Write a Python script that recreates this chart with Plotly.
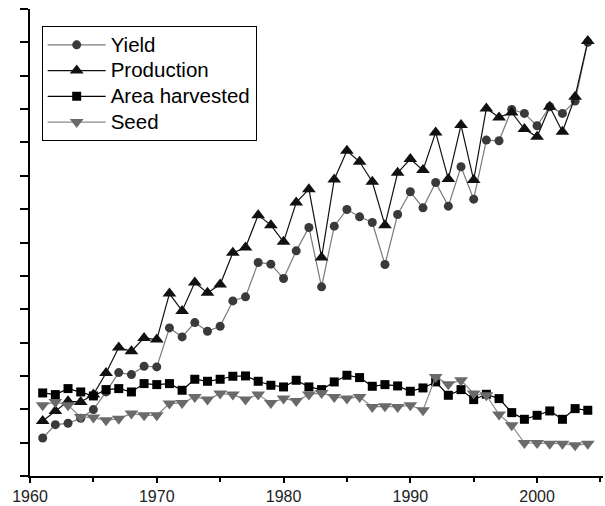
import plotly.graph_objects as go

years = list(range(1961, 2005))

yield_vals = [1.14, 1.54, 1.58, 1.73, 1.99, 2.52, 3.10, 3.04, 3.29, 3.27,
              4.44, 4.17, 4.60, 4.34, 4.49, 5.25, 5.37, 6.40, 6.35, 5.92,
              6.75, 7.45, 5.67, 7.49, 7.99, 7.77, 7.60, 6.34, 7.84, 8.52,
              8.04, 8.80, 8.09, 9.27, 8.30, 10.07, 10.05, 10.99, 10.87, 10.50,
              11.07, 10.87, 11.24, 13.00]

production_vals = [1.65, 1.95, 2.24, 2.22, 2.44, 3.09, 3.85, 3.74, 4.14, 4.09,
                   5.47, 4.95, 5.80, 5.49, 5.74, 6.69, 6.85, 7.82, 7.52, 7.02,
                   8.20, 8.60, 6.55, 8.89, 9.75, 9.42, 8.82, 7.52, 9.09, 9.50,
                   9.17, 10.30, 8.90, 10.52, 8.87, 11.02, 10.75, 10.90, 10.40, 10.17,
                   11.07, 10.32, 11.37, 13.04]

area_vals = [2.49, 2.44, 2.62, 2.52, 2.40, 2.59, 2.62, 2.52, 2.77, 2.74,
             2.77, 2.57, 2.90, 2.84, 2.90, 2.99, 3.00, 2.84, 2.72, 2.67,
             2.87, 2.67, 2.59, 2.82, 3.02, 2.95, 2.69, 2.74, 2.70, 2.54,
             2.64, 2.82, 2.42, 2.59, 2.29, 2.45, 2.32, 1.90, 1.70, 1.82,
             1.95, 1.70, 2.02, 1.97]

seed_vals = [2.12, 2.22, 2.12, 1.77, 1.75, 1.67, 1.72, 1.87, 1.82, 1.82,
             2.17, 2.19, 2.37, 2.29, 2.47, 2.44, 2.29, 2.44, 2.19, 2.32,
             2.25, 2.44, 2.49, 2.37, 2.32, 2.37, 2.07, 2.09, 2.07, 2.12,
             1.97, 2.97, 2.75, 2.87, 2.47, 2.42, 1.84, 1.52, 0.99, 0.99,
             0.97, 0.97, 0.92, 0.97]

series_names = ["Yield", "Production", "Area harvested", "Seed"]

x_tick_vals = [1960, 1970, 1980, 1990, 2000]
x_tick_text = ["1960", "1970", "1980", "1990", "2000"]


def legend_label(name):
    return '<span style="font-size:20.5px">' + name + "</span>"


fig = go.Figure()

fig.add_trace(go.Scatter(
    x=years, y=yield_vals, name=legend_label(series_names[0]), mode="lines+markers",
    line=dict(color="#7a7a7a", width=1.2),
    marker=dict(symbol="circle", size=9, color="#3a3a3a"),
))
fig.add_trace(go.Scatter(
    x=years, y=production_vals, name=legend_label(series_names[1]), mode="lines+markers",
    line=dict(color="#111111", width=1.2),
    marker=dict(symbol="triangle-up", size=12, color="#111111"),
))
fig.add_trace(go.Scatter(
    x=years, y=area_vals, name=legend_label(series_names[2]), mode="lines+markers",
    line=dict(color="#000000", width=1.2),
    marker=dict(symbol="square", size=9, color="#000000"),
))
fig.add_trace(go.Scatter(
    x=years, y=seed_vals, name=legend_label(series_names[3]), mode="lines+markers",
    line=dict(color="#8a8a8a", width=1.2),
    marker=dict(symbol="triangle-down", size=12, color="#6a6a6a"),
))

fig.update_layout(
    width=605, height=506,
    margin=dict(l=30, r=2, t=9, b=30, autoexpand=False),
    paper_bgcolor="white", plot_bgcolor="white",
    font=dict(family="Liberation Sans, Arial, sans-serif", color="#111111"),
    showlegend=True,
    legend=dict(
        x=0.0204, y=0.9636, xanchor="left", yanchor="top",
        bgcolor="white", bordercolor="#000000", borderwidth=1,
        font=dict(size=17.5, color="#000000"),
        itemwidth=58, tracegroupgap=0,
    ),
)

fig.update_xaxes(
    range=[1960, 2005.2], showgrid=False, zeroline=False, automargin=False,
    showline=True, linecolor="#000000", linewidth=2,
    ticks="outside", ticklen=5, tickwidth=2, tickcolor="#000000",
    tickvals=x_tick_vals, ticktext=x_tick_text,
    tickfont=dict(size=16, color="#222222"),
    ticklabelstandoff=0,
    minor=dict(dtick=5, tick0=1960, ticks="outside", ticklen=4, tickwidth=2,
               tickcolor="#000000", showgrid=False),
)
fig.update_yaxes(
    range=[0, 14], showgrid=False, zeroline=False, automargin=False,
    showline=True, linecolor="#000000", linewidth=2,
    ticks="outside", ticklen=8, tickwidth=2, tickcolor="#000000",
    dtick=1, tick0=0, showticklabels=False,
)

fig.write_html(
    "out.html",
    config={"displayModeBar": False},
    post_script="document.body.style.margin='0';document.body.style.overflow='hidden';",
)
